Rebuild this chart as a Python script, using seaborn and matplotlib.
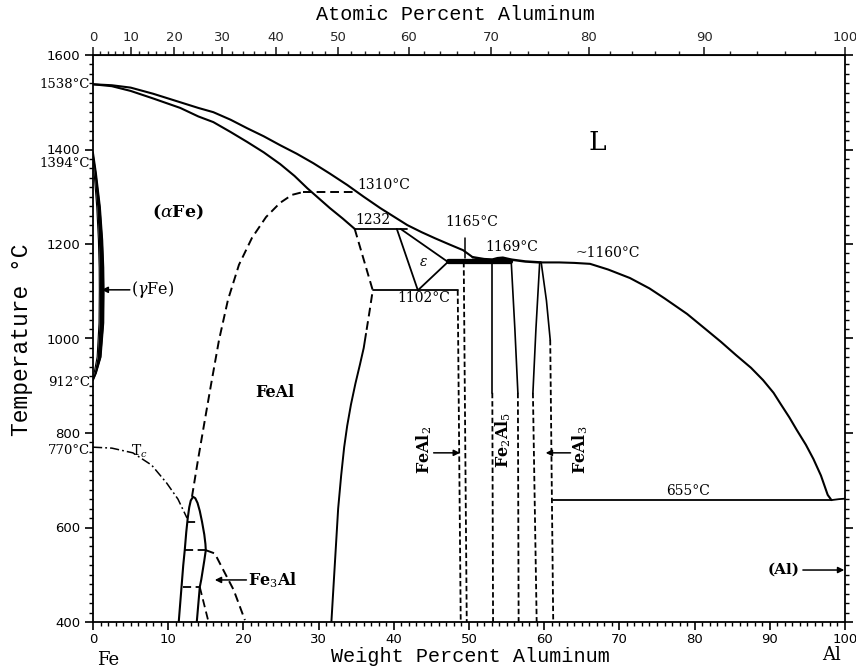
import numpy as np
import pandas as pd
import matplotlib
matplotlib.use("Agg")
import matplotlib.pyplot as plt
import seaborn as sns
from matplotlib.ticker import MultipleLocator, FixedLocator

# ---------------- data (weight % Al, temperature degC) ----------------
liq_fe_w = [0, 2.5, 5, 8, 11.6, 14, 16.0, 18.3, 20.5, 22.7, 24.9, 27.1, 29.3, 31.5, 33.8,
            36.0, 38.2, 40.0, 41.8, 43.7, 45.5, 47.4, 49.2, 50.5]
liq_fe_T = [1538, 1536, 1531, 1518, 1500, 1488, 1479, 1463, 1445, 1428, 1409, 1391, 1371, 1349, 1325,
            1300, 1276, 1258, 1240, 1225, 1212, 1199, 1187, 1172]
sol_fe_w = [0, 2.5, 5, 8, 11.6, 14, 16.0, 18.3, 20.5, 22.7, 24.9, 26.8, 28.5, 30.0, 31.5, 33.2, 34.8]
sol_fe_T = [1538, 1534, 1524, 1508, 1488, 1470, 1458, 1437, 1416, 1394, 1369, 1344, 1318, 1297, 1276, 1254, 1232]
liq_mid_w = [50.5, 52.0, 53.1, 53.8, 54.5, 55.6, 57.5, 59.5]
liq_mid_T = [1172, 1168, 1167, 1170, 1171, 1167, 1163, 1161]
liq_al_w = [59.5, 62.0, 64.0, 66.1, 68.5, 71.4, 74.0, 76.0, 79.0, 81.6, 83.5, 85.5, 87.5, 89.1,
            90.5, 91.5, 92.6, 93.6, 94.8, 95.8, 96.8, 97.7, 98.2]
liq_al_T = [1161, 1161, 1160, 1158, 1146, 1128, 1106, 1085, 1052, 1018, 993, 965, 938, 912,
            885, 860, 833, 806, 775, 745, 710, 669, 658]

eps_w = [40.4, 43.2, 47.2, 40.9]
eps_T = [1232, 1102, 1162, 1232]
iso1232_w = [34.8, 41.8]
iso1232_T = [1232, 1232]
iso1310_w = [27.9, 34.8]
iso1310_T = [1310, 1310]
iso1102_w = [37.2, 48.5]
iso1102_T = [1102, 1102]
eut_w = [47.2, 55.5]
eut_T = [1163, 1163]
mark1165_w = [49.5, 49.5]
mark1165_T = [1213, 1170]

feal_dash_w = [34.8, 37.2, 36.8, 36.3]
feal_dash_T = [1232, 1102, 1060, 1010]
feal_sol_w = [36.3, 36.0, 35.5, 34.9, 34.3, 33.8, 33.4, 33.0, 32.6, 32.3, 32.0, 31.7]
feal_sol_T = [1010, 980, 945, 905, 860, 815, 770, 710, 640, 560, 480, 400]

b2_w = [13.16, 13.96, 14.76, 15.69, 16.76, 17.95, 19.41, 21.14, 23.01, 24.87, 26.46, 27.93]
b2_T = [665, 743, 817, 902, 997, 1082, 1156, 1213, 1257, 1287, 1304, 1310]

tc_w = [0, 2.5, 5.3, 7.8, 9.8, 11.3, 12.5]
tc_T = [770, 768, 758, 732, 694, 660, 620]
tc2_w = [15.0, 16.2, 17.1, 18.7, 20.2]
tc2_T = [552, 545, 517, 468, 404]

dome_w = [11.4, 11.6, 11.8, 12.0, 12.2, 12.4, 12.6, 12.8, 13.0, 13.3, 13.6, 13.9, 14.2, 14.5,
          14.8, 14.95, 15.0, 14.8, 14.6, 14.4, 14.2, 14.0, 13.8]
dome_T = [400, 440, 480, 520, 552, 590, 620, 643, 657, 665, 662, 652, 635, 612,
          585, 565, 552, 530, 510, 490, 474, 437, 400]
dome_in_w = [14.2, 15.3]
dome_in_T = [474, 404]
dome_h612_w = [12.55, 13.9]
dome_h552_w = [12.2, 15.0]
dome_h474_w = [11.95, 14.2]
dome_h_T = [612, 552, 474]

fa2a_w = [48.5, 48.9]
fa2a_T = [1102, 400]
fa2b_w = [49.3, 49.7]
fa2b_T = [1162, 400]
f25l_sw = [53.1, 53.1]
f25l_sT = [1167, 885]
f25l_dw = [53.1, 53.2]
f25l_dT = [885, 400]
f25r_sw = [55.6, 56.1, 56.5]
f25r_sT = [1167, 1020, 885]
f25r_dw = [56.5, 56.6]
f25r_dT = [885, 400]
fa3l_sw = [59.4, 58.9, 58.5]
fa3l_sT = [1161, 1020, 885]
fa3l_dw = [58.5, 59.0]
fa3l_dT = [885, 400]
fa3r_sw = [59.6, 60.3, 60.8]
fa3r_sT = [1161, 1080, 997]
fa3r_dw = [60.8, 61.2]
fa3r_dT = [997, 400]

iso655_w = [61.2, 98.2]
iso655_T = [658, 658]
solvus_al_w = [98.2, 99.2, 100]
solvus_al_T = [658, 660, 661]

gam_T = [1394, 1350, 1278, 1208, 1150, 1103, 1033, 961, 927, 912]
gam_out = [0, 0.4, 0.93, 1.24, 1.38, 1.42, 1.38, 1.02, 0.4, 0]
gam_in = [0, 0.15, 0.5, 0.72, 0.82, 0.84, 0.8, 0.55, 0.15, 0]

wt_ticks = list(range(0, 101, 10))
temp_ticks = list(range(400, 1601, 200))
at_ticks = list(range(0, 101, 10))

M_AL, M_FE = 26.98, 55.85

# ---------------- figure ----------------
sns.set_style("ticks")
plt.rcParams['font.family'] = ['DejaVu Serif', 'DejaVu Sans']
plt.rcParams['mathtext.fontset'] = 'dejavuserif'

fig = plt.figure(figsize=(8.56, 6.70), dpi=100)
ax = fig.add_axes([93 / 856, 1 - 622 / 670, (845 - 93) / 856, (622 - 55) / 670])
ax.set_xlim(0, 100)
ax.set_ylim(400, 1600)

K = 'black'
DASH = (0, (4.5, 2.5))
SDASH = (0, (3, 1.6))
DDOT = (0, (6, 2, 1.2, 2))


def curve(w, T, ls='-', lw=1.4):
    sns.lineplot(x=w, y=T, sort=False, estimator=None, errorbar=None,
                 color=K, lw=lw, linestyle=ls, ax=ax)


curve(liq_fe_w, liq_fe_T, lw=1.5)
curve(sol_fe_w, sol_fe_T, lw=1.5)
curve(liq_mid_w, liq_mid_T, lw=1.8)
curve(liq_al_w, liq_al_T, lw=1.5)
curve(eps_w, eps_T, lw=1.3)
curve(iso1232_w, iso1232_T, lw=1.3)
curve(iso1310_w, iso1310_T, ls=DASH, lw=1.4)
curve(iso1102_w, iso1102_T, lw=1.3)
curve(eut_w, eut_T, lw=3.8)
curve(mark1165_w, mark1165_T, lw=1.1)
curve(feal_dash_w, feal_dash_T, ls=DASH, lw=1.4)
curve(feal_sol_w, feal_sol_T, lw=1.4)
curve(b2_w, b2_T, ls=DASH, lw=1.4)
curve(tc_w, tc_T, ls=DDOT, lw=1.1)
curve(tc2_w, tc2_T, ls=DASH, lw=1.4)
curve(dome_w, dome_T, lw=1.5)
curve(dome_in_w, dome_in_T, ls=DASH, lw=1.3)
for hw, hT in zip([dome_h612_w, dome_h552_w, dome_h474_w], dome_h_T):
    curve(hw, [hT, hT], ls=DASH, lw=1.3)
curve(fa2a_w, fa2a_T, ls=SDASH, lw=1.3)
curve(fa2b_w, fa2b_T, ls=SDASH, lw=1.3)
curve(f25l_sw, f25l_sT, lw=1.2)
curve(f25l_dw, f25l_dT, ls=SDASH, lw=1.3)
curve(f25r_sw, f25r_sT, lw=1.2)
curve(f25r_dw, f25r_dT, ls=SDASH, lw=1.3)
curve(fa3l_sw, fa3l_sT, lw=1.2)
curve(fa3l_dw, fa3l_dT, ls=SDASH, lw=1.3)
curve(fa3r_sw, fa3r_sT, lw=1.2)
curve(fa3r_dw, fa3r_dT, ls=SDASH, lw=1.3)
curve(iso655_w, iso655_T, lw=1.3)
curve(solvus_al_w, solvus_al_T, lw=1.3)

# gamma loop
ax.fill_betweenx(gam_T, gam_in, gam_out, color=K, lw=0)
curve(gam_out, gam_T, lw=1.3)
curve(gam_in, gam_T, lw=0.8)

# ---------------- axes styling ----------------
for s in ax.spines.values():
    s.set_visible(True)
    s.set_color(K)
    s.set_linewidth(1.3)
ax.set_xticks(wt_ticks)
ax.set_yticks(temp_ticks)
ax.xaxis.set_minor_locator(MultipleLocator(1))
ax.yaxis.set_minor_locator(MultipleLocator(20))
ax.yaxis.set_ticks_position('both')
ax.tick_params(axis='both', which='major', direction='out', length=6, width=1.2,
               labelsize=9.5, color=K, labelcolor=K, pad=2)
ax.tick_params(axis='both', which='minor', direction='out', length=3, width=1.0, color=K)
ax.tick_params(axis='y', labelright=False, pad=3)
for lab in ax.get_xticklabels() + ax.get_yticklabels():
    lab.set_fontfamily('DejaVu Sans')
ax.set_xlabel('')
ax.set_ylabel('')
fig.text(470 / 856, 1 - 656 / 670, 'Weight Percent Aluminum', ha='center', va='center',
         fontfamily='Liberation Mono', fontsize=14.5, color=K)
fig.text(22 / 856, 1 - 340 / 670, 'Temperature °C', ha='center', va='center', rotation=90,
         fontfamily='Liberation Mono', fontsize=16.5, color=K)


def wt2at(w):
    w = np.asarray(w, dtype=float)
    a = w / M_AL
    f = (100 - w) / M_FE
    return 100 * a / (a + f)


def at2wt(a):
    a = np.asarray(a, dtype=float)
    return 100 * a * M_AL / (a * M_AL + (100 - a) * M_FE)


sec = ax.secondary_xaxis('top', functions=(wt2at, at2wt))
sec.set_xticks(at_ticks)
sec.xaxis.set_minor_locator(FixedLocator(list(range(0, 101, 2))))
sec.tick_params(which='major', direction='out', length=6, width=1.2, labelsize=9.5, pad=2)
sec.tick_params(which='minor', direction='out', length=3, width=1.0)
for lab in sec.get_xticklabels():
    lab.set_fontfamily('DejaVu Sans')
fig.text(455 / 856, 1 - 15 / 670, 'Atomic Percent Aluminum', ha='center', va='center',
         fontfamily='Liberation Mono', fontsize=14.5, color=K)

# ---------------- annotations ----------------
def txt(x, y, s, **kw):
    d = dict(ha='center', va='center', color=K, fontsize=10)
    d.update(kw)
    ax.text(x, y, s, **d)


txt(67.0, 1414, 'L', fontsize=19)
txt(11.3, 1266, r'($\alpha$Fe)', fontsize=12.5, fontweight='bold')
txt(24.2, 885, 'FeAl', fontsize=11.5, fontweight='bold')
txt(5.0, 1103, r'($\gamma$Fe)', fontsize=11.5, ha='left')
txt(6.2, 762, r'T$_c$', fontsize=10)
txt(20.6, 489, r'Fe$_3$Al', fontsize=11.5, fontweight='bold', ha='left')
txt(35.1, 1325, '1310°C', fontsize=10, ha='left')
txt(34.9, 1250, '1232', fontsize=10, ha='left')
txt(50.4, 1247, '1165°C', fontsize=10)
txt(55.7, 1194, '1169°C', fontsize=10)
txt(68.4, 1181, '~1160°C', fontsize=10)
txt(44.0, 1086, '1102°C', fontsize=10)
txt(43.9, 1162, r'$\varepsilon$', fontsize=10)
txt(79.1, 677, '655°C', fontsize=10)
txt(94.0, 510, '(Al)', fontsize=11, fontweight='bold', ha='right')
txt(44.1, 764, r'FeAl$_2$', fontsize=11.5, fontweight='bold', rotation=90)
txt(54.5, 785, r'Fe$_2$Al$_5$', fontsize=11.5, fontweight='bold', rotation=90)
txt(64.8, 764, r'FeAl$_3$', fontsize=11.5, fontweight='bold', rotation=90)

AP = dict(arrowstyle='-|>', color=K, lw=1.1, mutation_scale=9, shrinkA=0, shrinkB=0)
ax.annotate('', xy=(1.15, 1103), xytext=(4.9, 1103), arrowprops=AP)
ax.annotate('', xy=(16.2, 489), xytext=(20.4, 489), arrowprops=AP)
ax.annotate('', xy=(48.8, 758), xytext=(45.3, 758), arrowprops=AP)
ax.annotate('', xy=(60.2, 758), xytext=(63.5, 758), arrowprops=AP)
ax.annotate('', xy=(99.9, 510), xytext=(94.4, 510), arrowprops=AP)

# labels outside the left axis
for T, s in [(1538, '1538°C'), (1371, '1394°C'), (906, '912°C'), (764, '770°C')]:
    ax.text(-0.4, T, s, ha='right', va='center', fontsize=9.5, color=K, clip_on=False)

fig.text(108 / 856, 1 - 660 / 670, 'Fe', ha='center', va='center', fontsize=13, color=K)
fig.text(832 / 856, 1 - 655 / 670, 'Al', ha='center', va='center', fontsize=13, color=K)

fig.savefig('out.png', dpi=100, facecolor='white')
